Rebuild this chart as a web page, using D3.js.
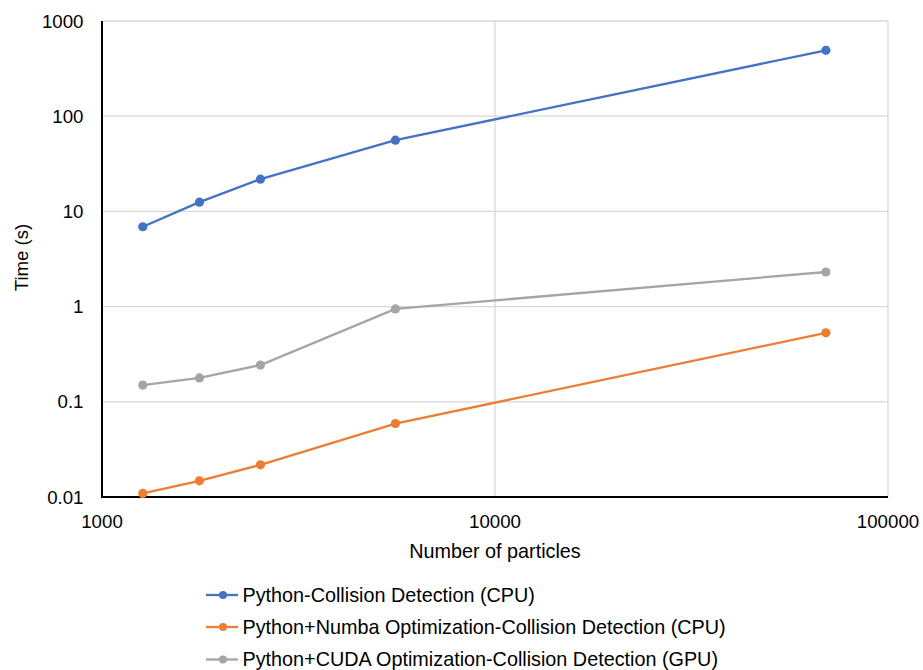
<!DOCTYPE html>
<html>
<head>
<meta charset="utf-8">
<script src="https://cdn.jsdelivr.net/npm/d3@7"></script>
<style>
  html, body { margin: 0; padding: 0; background: #fff; }
  svg { display: block; font-family: "Liberation Sans", Arial, sans-serif; }
</style>
</head>
<body>
<svg id="chart" width="923" height="670"></svg>
<script>
// Particle counts (x) and timings in seconds (y)
const particles = [1270, 1770, 2530, 5580, 69500];
const seriesNames = [
  "Python-Collision Detection (CPU)",
  "Python+Numba Optimization-Collision Detection (CPU)",
  "Python+CUDA Optimization-Collision Detection (GPU)"
];
const cpuTimes   = [6.9, 12.5, 21.8, 56, 492];
const numbaTimes = [0.0109, 0.0148, 0.0218, 0.059, 0.53];
const cudaTimes  = [0.150, 0.178, 0.243, 0.945, 2.31];
const seriesColors = ["#4472C4", "#ED7D31", "#A5A5A5"];
const xTicks = [1000, 10000, 100000];
const yTicks = [0.01, 0.1, 1, 10, 100, 1000];

const series = [cpuTimes, numbaTimes, cudaTimes].map((vals, i) => ({
  name: seriesNames[i],
  color: seriesColors[i],
  points: vals.map((v, j) => ({ x: particles[j], y: v }))
}));

const svg = d3.select("#chart");
const plotLeft = 102, plotRight = 888, plotTop = 21, plotBottom = 497;

const x = d3.scaleLog().domain([1000, 100000]).range([plotLeft, plotRight]);
const y = d3.scaleLog().domain([0.01, 1000]).range([plotBottom, plotTop]);

// Horizontal gridlines
svg.append("g")
  .selectAll("line")
  .data(yTicks)
  .join("line")
  .attr("x1", plotLeft).attr("x2", plotRight)
  .attr("y1", d => y(d)).attr("y2", d => y(d))
  .attr("stroke", "#d9d9d9").attr("stroke-width", 1.3);

// Vertical gridlines
svg.append("g")
  .selectAll("line")
  .data(xTicks.slice(1))
  .join("line")
  .attr("x1", d => x(d)).attr("x2", d => x(d))
  .attr("y1", plotTop).attr("y2", plotBottom)
  .attr("stroke", "#d9d9d9").attr("stroke-width", 1.3);

// Axis lines
svg.append("line")
  .attr("x1", plotLeft).attr("x2", plotLeft).attr("y1", plotTop).attr("y2", plotBottom + 1)
  .attr("stroke", "#000").attr("stroke-width", 2);
svg.append("line")
  .attr("x1", plotLeft - 1).attr("x2", plotRight).attr("y1", plotBottom).attr("y2", plotBottom)
  .attr("stroke", "#000").attr("stroke-width", 2);

// Tick labels
svg.append("g")
  .selectAll("text")
  .data(yTicks)
  .join("text")
  .attr("x", 83.5).attr("y", d => y(d))
  .attr("dy", "0.35em")
  .attr("text-anchor", "end")
  .attr("font-size", 18.7).attr("fill", "#000")
  .text(d => d3.format("~g")(d));

svg.append("g")
  .selectAll("text")
  .data(xTicks)
  .join("text")
  .attr("x", d => x(d)).attr("y", 528)
  .attr("text-anchor", "middle")
  .attr("font-size", 18.7).attr("fill", "#000")
  .text(d => d3.format("d")(d));

// Axis titles
svg.append("text")
  .attr("x", 495).attr("y", 558)
  .attr("text-anchor", "middle")
  .attr("font-size", 19.8).attr("fill", "#000")
  .text("Number of particles");

svg.append("text")
  .attr("transform", "translate(28,257.5) rotate(-90)")
  .attr("text-anchor", "middle")
  .attr("font-size", 18.6).attr("fill", "#000")
  .text("Time (s)");

// Series lines and markers
const line = d3.line().x(d => x(d.x)).y(d => y(d.y));
const g = svg.append("g");
series.forEach(s => {
  g.append("path")
    .datum(s.points)
    .attr("d", line)
    .attr("fill", "none")
    .attr("stroke", s.color)
    .attr("stroke-width", 2.3);
  g.selectAll(null)
    .data(s.points)
    .join("circle")
    .attr("cx", d => x(d.x)).attr("cy", d => y(d.y))
    .attr("r", 4.6)
    .attr("fill", s.color);
});

// Legend
const legend = svg.append("g");
const rowY = [595, 627, 659.5];
series.forEach((s, i) => {
  const row = legend.append("g").attr("transform", `translate(206,${rowY[i]})`);
  row.append("line").attr("x1", 0).attr("x2", 32).attr("y1", 0).attr("y2", 0)
    .attr("stroke", s.color).attr("stroke-width", 2.3);
  row.append("circle").attr("cx", 17).attr("cy", 0).attr("r", 4).attr("fill", s.color);
  row.append("text").attr("x", 36.5).attr("y", 0).attr("dy", "0.35em")
    .attr("font-size", 19.8).attr("fill", "#000")
    .text(s.name);
});
</script>
</body>
</html>
